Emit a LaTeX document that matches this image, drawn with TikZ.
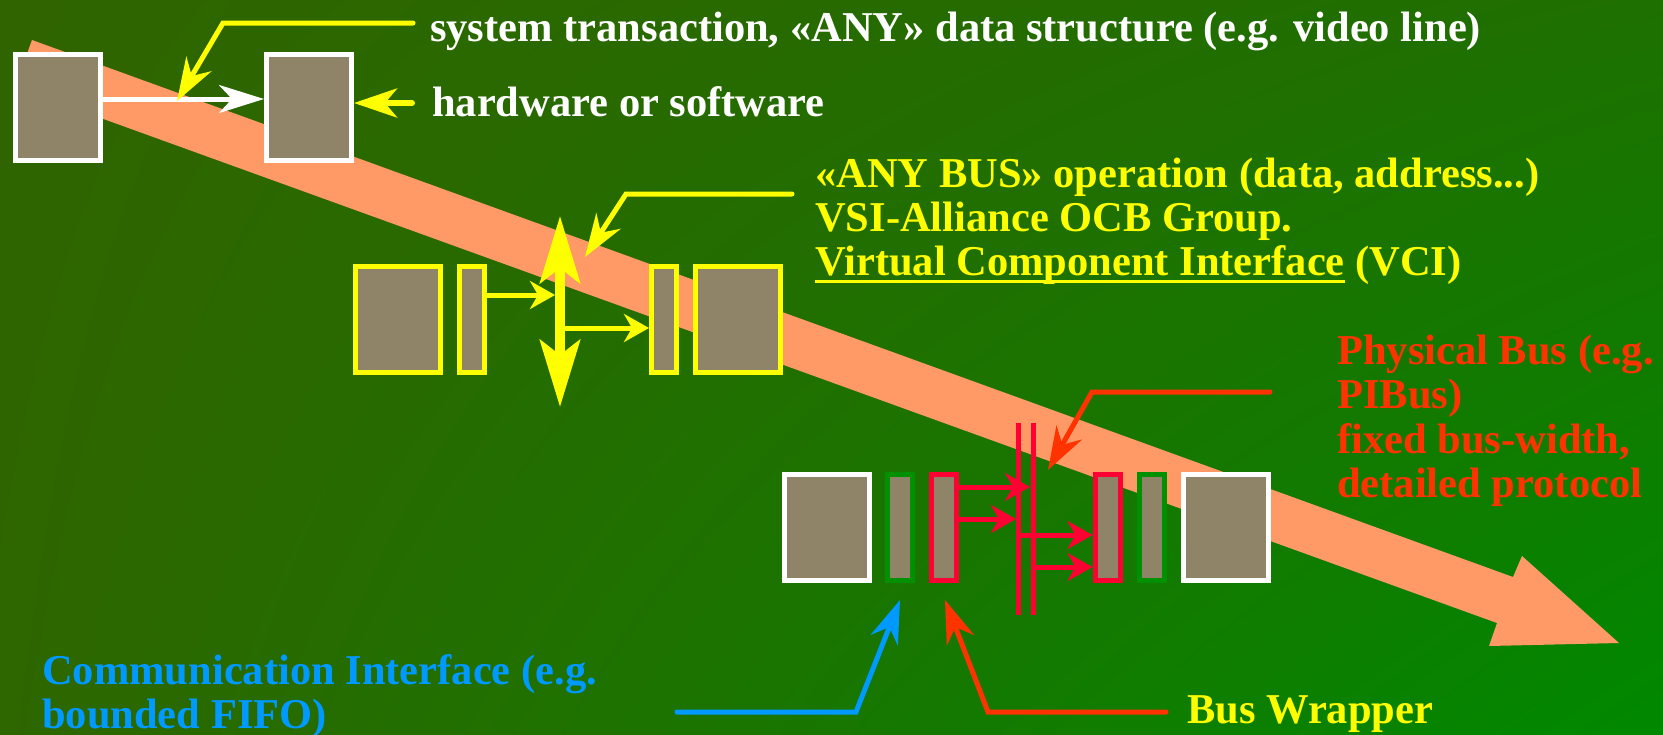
\documentclass[tikz,border=0pt]{standalone}
\usepackage{fontspec}
\setmainfont{Liberation Serif}
\usetikzlibrary{arrows.meta,shadings}

\definecolor{bgTL}{HTML}{306400}
\definecolor{bgTR}{HTML}{1E7000}
\definecolor{bgBL}{HTML}{2E6600}
\definecolor{bgBR}{HTML}{008800}
\definecolor{boxfill}{HTML}{8F8468}
\definecolor{peach}{HTML}{FF9966}
\definecolor{busred}{HTML}{FF0033}
\definecolor{callred}{HTML}{FF3300}
\definecolor{fifoblue}{HTML}{0099FF}
\definecolor{fifogreen}{HTML}{009000}
\definecolor{ylw}{HTML}{FFFF00}

% underline drawn as a rule just below the baseline
\newcommand\ulbar[1]{\setbox0=\hbox{#1}\rlap{\rule[-8pt]{\wd0}{3pt}}\box0\relax}

\tikzset{
  bigbox/.style={draw=#1, line width=5pt, fill=boxfill, inner sep=0pt,
    minimum width=85pt, minimum height=106pt},
  slimbox/.style={draw=#1, line width=5pt, fill=boxfill, inner sep=0pt,
    minimum width=25pt, minimum height=106pt},
  flow/.style={draw=#1, line width=5pt, -{Stealth[length=25pt,width=28pt,inset=8pt]}},
  callout/.style={draw=#1, line width=5pt, line cap=round,
    -{Stealth[length=43pt,width=29pt,inset=14pt]}},
  busline/.style={draw=busred, line width=5pt},
  lbl/.style={inner sep=0pt, anchor=base west, text=#1,
    font=\bfseries\fontsize{42.5pt}{44pt}\selectfont},
}

\begin{document}
\begin{tikzpicture}[x=1pt, y=-1pt]
\useasboundingbox (0,0) rectangle (1663,734);

% background
\shade[upper left=bgTL, upper right=bgTR, lower left=bgBL, lower right=bgBR]
  (0,0) rectangle (1663,734);

% the wide peach arrow across the picture
\fill[peach] (32,40) -- (1513,577) -- (1522,556) -- (1619,643)
  -- (1489,646) -- (1497,623) -- (15,87) -- cycle;

% ---------- system level ----------
\node[bigbox=white] (b1) at (58,107.5) {};
\node[bigbox=white] (b2) at (309,107.5) {};
\coordinate (w1) at (0,99);
\draw[white, line width=5pt, -{Stealth[length=45pt,width=28pt,inset=13pt]}]
  (b1.east |- w1) -- (b2.west |- w1);

\coordinate (s0) at (413,23);
\coordinate (s1) at (223,23);
\coordinate (s2) at (177,101);
\draw[callout=ylw] (s0) -- (s1) -- (s2);

\coordinate (hw) at (412,103);
\draw[ylw, line width=6pt, line cap=round, -{Stealth[length=43pt,width=29pt,inset=12pt]}]
  (hw) -- (b2.east |- hw);

\node[lbl=white] (t1) at (430,41.7) {system transaction, «ANY» data structure (e.g. video line)};
\node[lbl=white] (t2) at (432,116.7) {hardware or software};

% ---------- VCI level ----------
\node[bigbox=ylw]  (yl1) at (398,319.5) {};
\node[slimbox=ylw] (yl2) at (472,319.5) {};
\node[slimbox=ylw] (yr2) at (664,319.5) {};
\node[bigbox=ylw]  (yr1) at (737.5,319.5) {};

\coordinate (vtop) at (560,216);
\coordinate (vbot) at (560,407);
\draw[ylw, line width=10pt,
  {Stealth[length=67pt,width=40pt,inset=15pt]}-{Stealth[length=67pt,width=40pt,inset=15pt]}]
  (vtop) -- (vbot);
\coordinate (ya) at (0,295);
\coordinate (yb) at (0,328);
\draw[flow=ylw, shorten >=5pt] (yl2.east |- ya) -- (vtop |- ya);
\draw[flow=ylw] (vtop |- yb) -- (yr2.west |- yb);

\coordinate (v0) at (792,194);
\coordinate (v1) at (626,194);
\coordinate (v2) at (585,257);
\draw[callout=ylw] (v0) -- (v1) -- (v2);

\node[lbl=ylw] (y1) at (815,187) {«ANY BUS» operation (data, address...)};
\node[lbl=ylw] (y2) at (815,231) {VSI-Alliance OCB Group.};
\node[lbl=ylw] (y3) at (815,275) {\ulbar{Virtual Component Interface} (VCI)};

% ---------- physical bus level ----------
\node[bigbox=white]      (pl1) at (826.5,527.5) {};
\node[slimbox=fifogreen] (gl)  at (900,527.5) {};
\node[slimbox=busred]    (rl)  at (944,527.5) {};
\node[slimbox=busred]    (rr)  at (1107.5,527.5) {};
\node[slimbox=fifogreen] (gr)  at (1151.5,527.5) {};
\node[bigbox=white]      (pr1) at (1225.5,527.5) {};

\coordinate (busAtop) at (1018,423);
\coordinate (busAbot) at (1018,615);
\coordinate (busBtop) at (1033,423);
\coordinate (busBbot) at (1033,615);
\draw[busline] (busAtop) -- (busAbot);
\draw[busline] (busBtop) -- (busBbot);

\coordinate (r1) at (0,487);
\coordinate (r2) at (0,519);
\coordinate (r3) at (0,535);
\coordinate (r4) at (0,567);
\draw[flow=busred, shorten >=3pt] (rl.east |- r1) -- (busBtop |- r1);
\draw[flow=busred, shorten >=2pt] (rl.east |- r2) -- (busAtop |- r2);
\draw[flow=busred] (busAtop |- r3) -- (rr.west |- r3);
\draw[flow=busred] (busBtop |- r4) -- (rr.west |- r4);

\coordinate (p0) at (1270,392);
\coordinate (p1) at (1092,392);
\coordinate (p2) at (1048,470);
\draw[callout=callred] (p0) -- (p1) -- (p2);

\node[lbl=callred] (pt1) at (1337,364) {Physical Bus (e.g.};
\node[lbl=callred] (pt2) at (1337,408) {PIBus)};
\node[lbl=callred] (pt3) at (1337,453) {fixed bus-width,};
\node[lbl=callred] (pt4) at (1337,497) {detailed protocol};

% ---------- bottom labels ----------
\coordinate (f0) at (677,712);
\coordinate (f1) at (856,712);
\coordinate (f2) at (900,600);
\draw[callout=fifoblue] (f0) -- (f1) -- (f2);

\coordinate (q0) at (1166,712);
\coordinate (q1) at (988,712);
\coordinate (q2) at (945,600);
\draw[callout=callred] (q0) -- (q1) -- (q2);

\node[lbl=fifoblue] (ci1) at (42,684) {Communication Interface (e.g.};
\node[lbl=fifoblue] (ci2) at (42,728) {bounded FIFO)};
\node[lbl=ylw] (bw) at (1187,723) {Bus Wrapper};
\end{tikzpicture}
\end{document}
